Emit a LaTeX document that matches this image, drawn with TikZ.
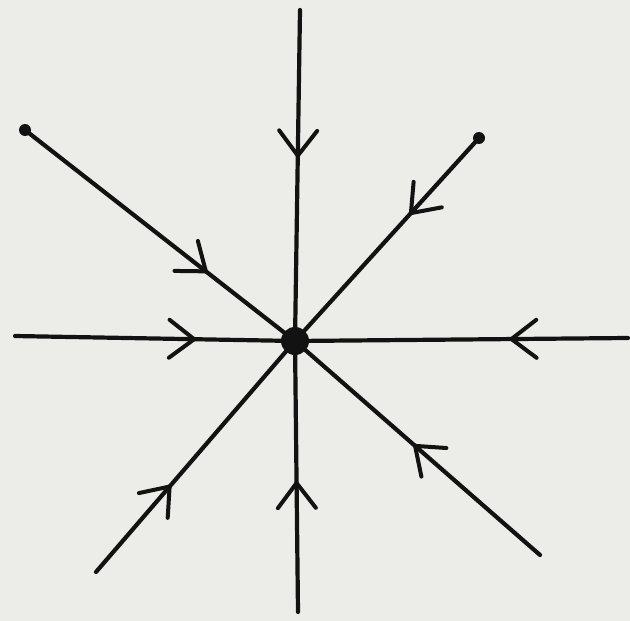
\documentclass[tikz,border=0pt]{standalone}
\usetikzlibrary{decorations.markings}
\definecolor{paper}{RGB}{236,236,233}
\definecolor{ink}{RGB}{18,18,18}
\tikzset{
  traj/.style={draw=ink, line width=4.2pt, line cap=round, line join=round},
  barbat/.style={postaction={decorate, decoration={markings,
      mark=at position #1 with {\draw[ink, line width=4pt, line cap=round, line join=round] (-25,19) -- (0,0) -- (-25,-19);}}}},
  hub/.style={circle, fill=ink, inner sep=0pt, minimum size=28pt},
  blob/.style={circle, fill=ink, inner sep=0pt, minimum size=12pt}
}
\begin{document}
\begin{tikzpicture}[x=1pt,y=-1pt]
\fill[paper] (0,0) rectangle (630,621);
\useasboundingbox (0,0) rectangle (630,621);
\node[hub] (c) at (295,341) {};
\coordinate (top) at (300,10);
\coordinate (bot) at (298,612);
\coordinate (lft) at (15,336);
\coordinate (rgt) at (628,338);
\node[blob] (ul) at (25,130) {};
\node[blob] (ur) at (479,138) {};
\coordinate (ll) at (96,572);
\coordinate (lr) at (540,555);
\draw[traj, barbat=0.44] (top) -- (c.center);
\draw[traj, barbat=0.476] (bot) -- (c.center);
\draw[traj, barbat=0.64] (lft) -- (c.center);
\draw[traj, barbat=0.35] (rgt) -- (c.center);
\draw[traj, barbat=0.67] (ul.center) -- (c.center);
\draw[traj, barbat=0.37] (ur.center) -- (c.center);
\draw[traj, barbat=0.37] (ll) -- (c.center);
\draw[traj, barbat=0.51] (lr) -- (c.center);
\end{tikzpicture}
\end{document}
